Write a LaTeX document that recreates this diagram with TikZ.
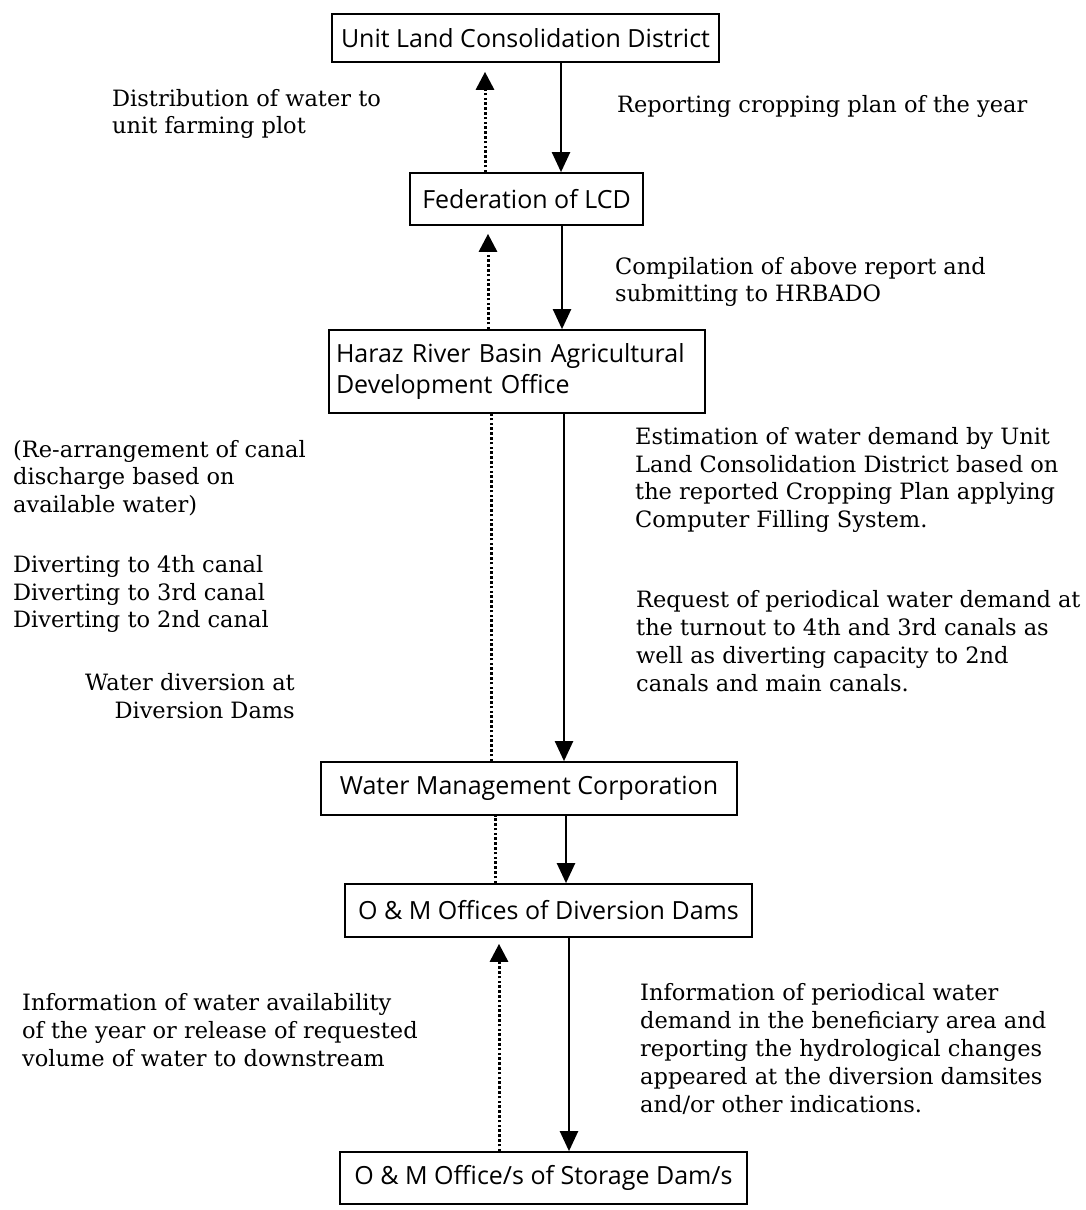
\documentclass[tikz,border=0pt]{standalone}
\usepackage{fontspec}
\setmainfont{DejaVu Serif}
\newfontfamily\boxfont{Open Sans}
\usetikzlibrary{arrows.meta}
\begin{document}
\begin{tikzpicture}[x=1pt,y=1pt,
  box/.style={draw, line width=1.7pt, inner sep=0pt, font=\boxfont\fontsize{25}{30}\selectfont},
  lbl/.style={inner sep=0pt, align=left, font=\fontsize{22.5}{27.8}\selectfont},
  solidarr/.style={line width=2.2pt, -{Triangle[length=20pt,width=18pt]}},
  dotarr/.style={line width=3pt, dash pattern=on 2.6pt off 2.2pt, -{Triangle[length=18pt,width=18pt]}},
  dotline/.style={line width=3pt, dash pattern=on 2.6pt off 2.2pt}
]
\useasboundingbox (0,0) rectangle (1085,-1210);
\fill[white] (0,0) rectangle (1085,-1210);

% boxes
\node[box, minimum width=387pt, minimum height=48pt] (b1) at (525.5,-38) {Unit Land Consolidation District};
\node[box, minimum width=233pt, minimum height=52pt] (b2) at (526.5,-199) {Federation of LCD};
\node[box, minimum width=376pt, minimum height=83pt, text width=362pt, align=left, font=\boxfont\fontsize{25}{31}\selectfont] (b3) at (517,-371.5) {Haraz River Basin Agricultural\\Development Office};
\node[box, minimum width=416pt, minimum height=53pt] (b4) at (529,-788.5) {Water Management Corporation};
\node[box, minimum width=407pt, minimum height=53pt] (b5) at (548.5,-910.5) {O \& M Offices of Diversion Dams};
\node[box, minimum width=407pt, minimum height=52pt] (b6) at (543.5,-1178) {O \& M Office/s of Storage Dam/s};

% arrow columns
\coordinate (s1) at (561,0);
\coordinate (s2) at (562,0);
\coordinate (s3) at (564,0);
\coordinate (s4) at (566,0);
\coordinate (s5) at (569,0);
\coordinate (d1) at (485,0);
\coordinate (d2) at (488,0);
\coordinate (d3) at (491,0);
\coordinate (d4) at (495,0);
\coordinate (d5) at (499,0);

% solid (downward) connectors
\draw[solidarr] (b1.south -| s1) -- (b2.north -| s1);
\draw[solidarr] (b2.south -| s2) -- (b3.north -| s2);
\draw[solidarr] (b3.south -| s3) -- (b4.north -| s3);
\draw[solidarr] (b4.south -| s4) -- (b5.north -| s4);
\draw[solidarr] (b5.south -| s5) -- (b6.north -| s5);

% dotted (upward) connectors
\draw[dotarr, shorten >=9pt] (b2.north -| d1) -- (b1.south -| d1);
\draw[dotarr, shorten >=8pt] (b3.north -| d2) -- (b2.south -| d2);
\draw[dotline] (b4.north -| d3) -- (b3.south -| d3);
\draw[dotline] (b5.north -| d4) -- (b4.south -| d4);
\draw[dotarr, shorten >=6pt] (b6.north -| d5) -- (b5.south -| d5);

% labels
\node[lbl, anchor=west] (t1) at (112,-114) {Distribution of water to\\unit farming plot};
\node[lbl, anchor=west] (t2) at (617,-106) {Reporting cropping plan of the year};
\node[lbl, anchor=west] (t3) at (615,-282) {Compilation of above report and\\submitting to HRBADO};
\node[lbl, anchor=west] (t4) at (13,-478) {(Re-arrangement of canal\\discharge based on\\available water)};
\node[lbl, anchor=west] (t5) at (13,-594) {Diverting to 4th canal\\Diverting to 3rd canal\\Diverting to 2nd canal};
\node[lbl, anchor=east, align=right] (t6) at (295,-696) {Water diversion at\\Diversion Dams};
\node[lbl, anchor=west] (t7) at (635,-480) {Estimation of water demand by Unit\\Land Consolidation District based on\\the reported Cropping Plan applying\\Computer Filling System.};
\node[lbl, anchor=west] (t8) at (636,-641) {Request of periodical water demand at\\the turnout to 4th and 3rd canals as\\well as diverting capacity to 2nd\\canals and main canals.};
\node[lbl, anchor=west] (t9) at (22,-1030) {Information of water availability\\of the year or release of requested\\volume of water to downstream};
\node[lbl, anchor=west] (t10) at (640,-1049) {Information of periodical water\\demand in the beneficiary area and\\reporting the hydrological changes\\appeared at the diversion damsites\\and/or other indications.};
\end{tikzpicture}
\end{document}
